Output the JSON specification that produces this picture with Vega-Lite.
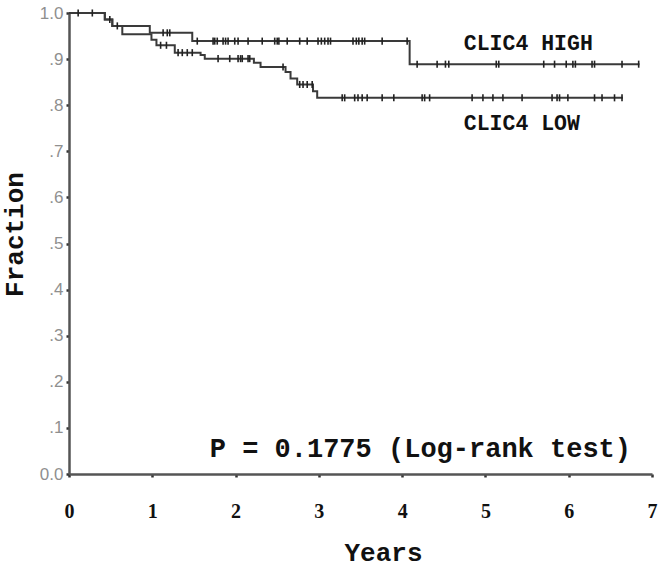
{
  "$schema": "https://vega.github.io/schema/vega-lite/v6.json",
  "autosize": {"type": "none"},
  "width": 583,
  "height": 461,
  "padding": {"left": 69, "top": 13, "right": 12, "bottom": 95},
  "background": "white",
  "config": {"view": {"stroke": null}},
  "datasets": {
    "steps": [
      {"group": "HIGH", "t": 0, "s": 1},
      {"group": "HIGH", "t": 0.43, "s": 0.986},
      {"group": "HIGH", "t": 0.52, "s": 0.972},
      {"group": "HIGH", "t": 0.97, "s": 0.957},
      {"group": "HIGH", "t": 1.48, "s": 0.939},
      {"group": "HIGH", "t": 4.09, "s": 0.889},
      {"group": "HIGH", "t": 6.85, "s": 0.889},
      {"group": "LOW", "t": 0, "s": 1},
      {"group": "LOW", "t": 0.43, "s": 0.986},
      {"group": "LOW", "t": 0.52, "s": 0.972},
      {"group": "LOW", "t": 0.64, "s": 0.954},
      {"group": "LOW", "t": 0.99, "s": 0.942},
      {"group": "LOW", "t": 1.05, "s": 0.930},
      {"group": "LOW", "t": 1.27, "s": 0.914},
      {"group": "LOW", "t": 1.58, "s": 0.909},
      {"group": "LOW", "t": 1.63, "s": 0.901},
      {"group": "LOW", "t": 2.22, "s": 0.892},
      {"group": "LOW", "t": 2.30, "s": 0.883},
      {"group": "LOW", "t": 2.60, "s": 0.872},
      {"group": "LOW", "t": 2.66, "s": 0.858},
      {"group": "LOW", "t": 2.74, "s": 0.845},
      {"group": "LOW", "t": 2.93, "s": 0.830},
      {"group": "LOW", "t": 2.98, "s": 0.816},
      {"group": "LOW", "t": 6.65, "s": 0.816}
    ],
    "censor": [
      {"group": "HIGH", "t": 0.11, "s": 1},
      {"group": "HIGH", "t": 0.28, "s": 1},
      {"group": "HIGH", "t": 1.13, "s": 0.957},
      {"group": "HIGH", "t": 1.18, "s": 0.957},
      {"group": "HIGH", "t": 1.21, "s": 0.957},
      {"group": "HIGH", "t": 1.54, "s": 0.939},
      {"group": "HIGH", "t": 1.73, "s": 0.939},
      {"group": "HIGH", "t": 1.75, "s": 0.939},
      {"group": "HIGH", "t": 1.78, "s": 0.939},
      {"group": "HIGH", "t": 1.85, "s": 0.939},
      {"group": "HIGH", "t": 1.88, "s": 0.939},
      {"group": "HIGH", "t": 1.91, "s": 0.939},
      {"group": "HIGH", "t": 1.99, "s": 0.939},
      {"group": "HIGH", "t": 2.03, "s": 0.939},
      {"group": "HIGH", "t": 2.15, "s": 0.939},
      {"group": "HIGH", "t": 2.32, "s": 0.939},
      {"group": "HIGH", "t": 2.47, "s": 0.939},
      {"group": "HIGH", "t": 2.50, "s": 0.939},
      {"group": "HIGH", "t": 2.52, "s": 0.939},
      {"group": "HIGH", "t": 2.62, "s": 0.939},
      {"group": "HIGH", "t": 2.77, "s": 0.939},
      {"group": "HIGH", "t": 2.86, "s": 0.939},
      {"group": "HIGH", "t": 2.99, "s": 0.939},
      {"group": "HIGH", "t": 3.03, "s": 0.939},
      {"group": "HIGH", "t": 3.07, "s": 0.939},
      {"group": "HIGH", "t": 3.11, "s": 0.939},
      {"group": "HIGH", "t": 3.14, "s": 0.939},
      {"group": "HIGH", "t": 3.41, "s": 0.939},
      {"group": "HIGH", "t": 3.45, "s": 0.939},
      {"group": "HIGH", "t": 3.48, "s": 0.939},
      {"group": "HIGH", "t": 3.52, "s": 0.939},
      {"group": "HIGH", "t": 3.55, "s": 0.939},
      {"group": "HIGH", "t": 3.76, "s": 0.939},
      {"group": "HIGH", "t": 4.06, "s": 0.939},
      {"group": "HIGH", "t": 4.18, "s": 0.889},
      {"group": "HIGH", "t": 4.42, "s": 0.889},
      {"group": "HIGH", "t": 4.52, "s": 0.889},
      {"group": "HIGH", "t": 4.56, "s": 0.889},
      {"group": "HIGH", "t": 5.13, "s": 0.889},
      {"group": "HIGH", "t": 5.16, "s": 0.889},
      {"group": "HIGH", "t": 5.70, "s": 0.889},
      {"group": "HIGH", "t": 5.83, "s": 0.889},
      {"group": "HIGH", "t": 5.97, "s": 0.889},
      {"group": "HIGH", "t": 6.05, "s": 0.889},
      {"group": "HIGH", "t": 6.08, "s": 0.889},
      {"group": "HIGH", "t": 6.28, "s": 0.889},
      {"group": "HIGH", "t": 6.31, "s": 0.889},
      {"group": "HIGH", "t": 6.64, "s": 0.889},
      {"group": "HIGH", "t": 6.84, "s": 0.889},
      {"group": "LOW", "t": 0.49, "s": 0.986},
      {"group": "LOW", "t": 0.58, "s": 0.972},
      {"group": "LOW", "t": 1.10, "s": 0.930},
      {"group": "LOW", "t": 1.17, "s": 0.930},
      {"group": "LOW", "t": 1.31, "s": 0.914},
      {"group": "LOW", "t": 1.36, "s": 0.914},
      {"group": "LOW", "t": 1.42, "s": 0.914},
      {"group": "LOW", "t": 1.48, "s": 0.914},
      {"group": "LOW", "t": 1.79, "s": 0.901},
      {"group": "LOW", "t": 1.93, "s": 0.901},
      {"group": "LOW", "t": 2.03, "s": 0.901},
      {"group": "LOW", "t": 2.06, "s": 0.901},
      {"group": "LOW", "t": 2.08, "s": 0.901},
      {"group": "LOW", "t": 2.15, "s": 0.901},
      {"group": "LOW", "t": 2.17, "s": 0.901},
      {"group": "LOW", "t": 2.57, "s": 0.883},
      {"group": "LOW", "t": 2.77, "s": 0.845},
      {"group": "LOW", "t": 2.81, "s": 0.845},
      {"group": "LOW", "t": 2.86, "s": 0.845},
      {"group": "LOW", "t": 2.92, "s": 0.845},
      {"group": "LOW", "t": 3.28, "s": 0.816},
      {"group": "LOW", "t": 3.31, "s": 0.816},
      {"group": "LOW", "t": 3.43, "s": 0.816},
      {"group": "LOW", "t": 3.47, "s": 0.816},
      {"group": "LOW", "t": 3.52, "s": 0.816},
      {"group": "LOW", "t": 3.58, "s": 0.816},
      {"group": "LOW", "t": 3.76, "s": 0.816},
      {"group": "LOW", "t": 3.90, "s": 0.816},
      {"group": "LOW", "t": 4.24, "s": 0.816},
      {"group": "LOW", "t": 4.27, "s": 0.816},
      {"group": "LOW", "t": 4.33, "s": 0.816},
      {"group": "LOW", "t": 4.84, "s": 0.816},
      {"group": "LOW", "t": 4.97, "s": 0.816},
      {"group": "LOW", "t": 5.09, "s": 0.816},
      {"group": "LOW", "t": 5.21, "s": 0.816},
      {"group": "LOW", "t": 5.44, "s": 0.816},
      {"group": "LOW", "t": 5.80, "s": 0.816},
      {"group": "LOW", "t": 5.86, "s": 0.816},
      {"group": "LOW", "t": 5.89, "s": 0.816},
      {"group": "LOW", "t": 5.99, "s": 0.816},
      {"group": "LOW", "t": 6.31, "s": 0.816},
      {"group": "LOW", "t": 6.40, "s": 0.816},
      {"group": "LOW", "t": 6.55, "s": 0.816},
      {"group": "LOW", "t": 6.64, "s": 0.816}
    ],
    "labels": [
      {"label": "CLIC4 HIGH", "t": 4.74, "s": 0.932, "size": 21.5},
      {"label": "CLIC4 LOW", "t": 4.74, "s": 0.759, "size": 21.5},
      {"label": "P = 0.1775 (Log-rank test)", "t": 1.69, "s": 0.055, "size": 27}
    ]
  },
  "layer": [
    {
      "data": {"name": "steps"},
      "mark": {"type": "line", "interpolate": "step-after", "color": "#3a3a3a", "strokeWidth": 2},
      "encoding": {
        "x": {
          "field": "t", "type": "quantitative",
          "scale": {"domain": [0, 7], "nice": false},
          "axis": {
            "values": [0, 1, 2, 3, 4, 5, 6, 7],
            "format": "d",
            "title": "Years",
            "titleFont": "Liberation Mono", "titleFontWeight": "bold", "titleFontSize": 26,
            "titleColor": "#111", "titlePadding": 18,
            "titleX": 314, "titleAlign": "center",
            "labelFont": "Liberation Serif", "labelFontWeight": "bold", "labelFontSize": 20,
            "labelColor": "#111", "labelPadding": 24, "labelFlush": false,
            "domainColor": "#555", "domainWidth": 2.5,
            "tickColor": "#333", "tickSize": 3, "tickWidth": 2.5,
            "grid": false,
            "encode": {"labels": {"update": {"dy": {"signal": "datum.value == 0 ? -5 : 0"}}}}
          }
        },
        "y": {
          "field": "s", "type": "quantitative",
          "scale": {"domain": [0, 1], "nice": false, "zero": true},
          "axis": {
            "values": [0, 0.1, 0.2, 0.3, 0.4, 0.5, 0.6, 0.7, 0.8, 0.9, 1],
            "labelExpr": "datum.value == 1 ? '1.0' : datum.value == 0 ? '0.0' : replace(format(datum.value, '.1f'), '0.', '.')",
            "title": "Fraction",
            "titleFont": "Liberation Mono", "titleFontWeight": "bold", "titleFontSize": 26,
            "titleColor": "#111", "titlePadding": 12,
            "titleY": 221, "titleAlign": "center",
            "labelFont": "Liberation Sans", "labelFontSize": 17, "labelColor": "#8f8f8f",
            "labelPadding": 3, "labelFlush": false,
            "domainColor": "#555", "domainWidth": 2.5,
            "tickColor": "#333", "tickSize": 3, "tickWidth": 2.5,
            "grid": false,
            "encode": {"labels": {"update": {"dy": {"signal": "datum.value == 0 ? -9 : 0"}}}}
          }
        },
        "detail": {"field": "group", "type": "nominal"}
      }
    },
    {
      "data": {"name": "censor"},
      "mark": {"type": "point", "shape": "M0,-1V1", "filled": false, "stroke": "#222", "strokeWidth": 1.6, "size": 50, "opacity": 1},
      "encoding": {
        "x": {"field": "t", "type": "quantitative"},
        "y": {"field": "s", "type": "quantitative"}
      }
    },
    {
      "data": {"name": "labels"},
      "mark": {"type": "text", "align": "left", "baseline": "middle", "font": "Liberation Mono", "fontWeight": "bold", "color": "#111"},
      "encoding": {
        "x": {"field": "t", "type": "quantitative"},
        "y": {"field": "s", "type": "quantitative"},
        "text": {"field": "label", "type": "nominal"},
        "size": {"field": "size", "type": "quantitative", "scale": null, "legend": null}
      }
    }
  ]
}
